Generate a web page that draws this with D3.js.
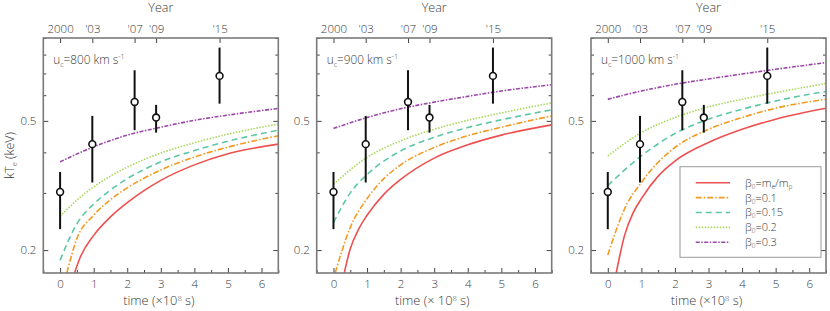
<!DOCTYPE html>
<html>
<head>
<meta charset="utf-8">
<script src="https://cdn.jsdelivr.net/npm/d3@7"></script>
<style>
  body { margin: 0; background: #fff; }
  svg text { font-family: "Open Sans", sans-serif; font-weight: 300; fill: #3a3a3a; }
</style>
</head>
<body>
<div id="chart"></div>
<script>
// observations (same in every panel)
const obsTime = [0, 0.96, 2.22, 2.86, 4.75];
const obsYear = ["2000", "'03", "'07", "'09", "'15"];
const obsKT = [0.302, 0.424, 0.572, 0.512, 0.688];
const obsLo = [0.232, 0.323, 0.468, 0.460, 0.565];
const obsHi = [0.348, 0.518, 0.716, 0.560, 0.841];

const velocities = ["800", "900", "1000"];
const betaNames = ["me", "0.1", "0.15", "0.2", "0.3"];
const colors = ["#ee5050", "#f39a22", "#5ec6a6", "#a8d85c", "#9c46aa"];
const dashes = [null, "6,2,1.5,2", "6,4", "1.5,1.5", "4,1.5,1.5,1.5"];

// model curves, [time, kTe], in beta order
const curves800 = [
    [[0.43,0.17],[0.6,0.19],[1,0.222],[1.5,0.253],[2,0.28],[2.5,0.305],[3,0.328],[4,0.366],[5,0.396],[6.5,0.424]],
    [[0.2,0.17],[0.5,0.217],[1,0.256],[1.5,0.286],[2,0.311],[2.5,0.333],[3,0.353],[4,0.387],[5,0.415],[6.5,0.45]],
    [[0,0.186],[0.5,0.241],[1,0.277],[1.5,0.306],[2,0.332],[2.5,0.354],[3,0.374],[4,0.405],[5,0.433],[6.5,0.468]],
    [[0,0.254],[0.5,0.285],[1,0.313],[1.5,0.338],[2,0.36],[2.5,0.38],[3,0.398],[4,0.428],[5,0.455],[6.5,0.489]],
    [[0,0.374],[1,0.416],[2,0.452],[3,0.478],[4,0.502],[5,0.521],[6.5,0.546]]
];
const curves900 = [
    [[0.32,0.17],[0.5,0.202],[0.75,0.232],[1,0.256],[1.5,0.297],[2,0.33],[3,0.384],[4,0.422],[5,0.452],[6.5,0.486]],
    [[0.05,0.17],[0.5,0.235],[1,0.288],[1.5,0.332],[2,0.366],[3,0.414],[4,0.45],[5,0.478],[6.5,0.518]],
    [[0,0.243],[0.5,0.3],[1,0.342],[1.5,0.376],[2,0.404],[3,0.445],[4,0.477],[5,0.504],[6.5,0.541]],
    [[0,0.319],[1,0.386],[2,0.434],[3,0.471],[4,0.502],[5,0.529],[6.5,0.568]],
    [[0,0.474],[1,0.512],[2,0.545],[3,0.571],[4,0.595],[5,0.618],[6.5,0.646]]
];
const curves1000 = [
    [[0.25,0.17],[0.5,0.222],[0.75,0.26],[1,0.288],[1.5,0.338],[2,0.376],[3,0.429],[4,0.471],[5,0.506],[6.5,0.547]],
    [[0,0.193],[0.5,0.268],[1,0.323],[1.5,0.373],[2,0.414],[3,0.471],[4,0.512],[5,0.547],[6.5,0.583]],
    [[0,0.316],[1,0.39],[2,0.457],[3,0.506],[4,0.543],[5,0.576],[6.5,0.616]],
    [[0,0.39],[1,0.46],[2,0.512],[3,0.552],[4,0.583],[5,0.611],[6.5,0.652]],
    [[0,0.583],[1,0.618],[2,0.648],[3,0.673],[4,0.697],[5,0.721],[6.5,0.756]]
];
const allCurves = [curves800, curves900, curves1000];

const panelLeft = [43.3, 316.7, 591];
const panelTop = 38, panelW = 235, panelH = 235;

const svg = d3.select("#chart").append("svg")
    .attr("width", 830).attr("height", 311);

const xScale = d3.scaleLinear().domain([-0.5, 6.5]).range([0, panelW]);
const yScale = d3.scaleLog().domain([0.17, 0.9]).range([panelH, 0]);

svg.append("defs").append("clipPath").attr("id", "plotClip")
    .append("rect").attr("width", panelW).attr("height", panelH);

const line = d3.line()
    .x(d => xScale(d[0]))
    .y(d => yScale(d[1]))
    .curve(d3.curveMonotoneX);

velocities.forEach(function(vel, p) {
    var g = svg.append("g")
        .attr("transform", "translate(" + panelLeft[p] + "," + panelTop + ")");

    // curves
    var cg = g.append("g").attr("clip-path", "url(#plotClip)");
    allCurves[p].forEach(function(c, i) {
        cg.append("path")
            .attr("d", line(c))
            .attr("fill", "none")
            .attr("stroke", colors[i])
            .attr("stroke-width", 1.6)
            .attr("stroke-dasharray", dashes[i]);
    });

    // axes, ticks drawn inward
    var yMajor = [0.2, 0.5];
    var yMinor = [0.3, 0.4, 0.6, 0.7, 0.8, 0.9];
    var axisStyle = sel => sel.select(".domain").remove();

    g.append("g")
        .call(d3.axisBottom(xScale).tickValues(d3.range(0, 7)).tickSize(-5).tickPadding(7).tickFormat(d3.format("d")))
        .attr("transform", "translate(0," + panelH + ")")
        .call(axisStyle);
    g.append("g")
        .call(d3.axisBottom(xScale).tickValues(d3.range(-0.5, 7, 1)).tickSize(-3).tickFormat(""))
        .attr("transform", "translate(0," + panelH + ")")
        .call(axisStyle);
    g.append("g")
        .call(d3.axisTop(xScale).tickValues(obsTime).tickSize(-5).tickPadding(5)
              .tickFormat((d, i) => obsYear[i]))
        .call(axisStyle);

    g.append("g")
        .call(d3.axisLeft(yScale).tickValues(yMajor).tickSize(-5).tickPadding(7).tickFormat(d3.format(".1f")))
        .call(axisStyle);
    g.append("g")
        .call(d3.axisLeft(yScale).tickValues(yMinor).tickSize(-3).tickFormat(""))
        .call(axisStyle);
    g.append("g")
        .attr("transform", "translate(" + panelW + ",0)")
        .call(d3.axisRight(yScale).tickValues(yMajor).tickSize(-5).tickFormat(""))
        .call(axisStyle);
    g.append("g")
        .attr("transform", "translate(" + panelW + ",0)")
        .call(d3.axisRight(yScale).tickValues(yMinor).tickSize(-3).tickFormat(""))
        .call(axisStyle);

    g.selectAll(".tick line").attr("stroke", "#444").attr("stroke-width", 1);
    g.selectAll(".tick text").attr("font-size", 11.5).attr("fill", "#3a3a3a")
        .style("font-family", "'Open Sans', sans-serif").style("font-weight", 300);

    // frame
    g.append("rect")
        .attr("width", panelW).attr("height", panelH)
        .attr("fill", "none").attr("stroke", "#7a7a7a").attr("stroke-width", 1.6);

    // error bars and points
    obsTime.forEach(function(t, i) {
        g.append("line")
            .attr("x1", xScale(t)).attr("x2", xScale(t))
            .attr("y1", yScale(obsLo[i])).attr("y2", yScale(obsHi[i]))
            .attr("stroke", "#111").attr("stroke-width", 2);
    });
    g.selectAll("circle.obs").data(obsTime).enter().append("circle")
        .attr("class", "obs")
        .attr("cx", d => xScale(d))
        .attr("cy", (d, i) => yScale(obsKT[i]))
        .attr("r", 3.4)
        .attr("fill", "#fff").attr("stroke", "#111").attr("stroke-width", 1.6);

    // velocity label
    var lab = g.append("text").attr("x", 10).attr("y", 26).attr("font-size", 11.8);
    lab.append("tspan").text("u");
    lab.append("tspan").attr("font-size", 7).attr("dy", 2.5).text("c");
    lab.append("tspan").attr("dy", -2.5).text("=" + vel + " km s");
    lab.append("tspan").attr("font-size", 7).attr("dy", -5).text("-1");

    // axis titles
    g.append("text")
        .attr("x", panelW / 2).attr("y", -26)
        .attr("text-anchor", "middle").attr("font-size", 12.5)
        .text("Year");
    var xt = g.append("text")
        .attr("x", panelW / 2 - 2).attr("y", panelH + 32)
        .attr("text-anchor", "middle").attr("font-size", 12.8);
    xt.append("tspan").text("time (" + (p == 1 ? "× " : "×") + "10");
    xt.append("tspan").attr("font-size", 7.5).attr("dy", -4).text("8");
    xt.append("tspan").attr("dy", 4).text(" s)");
});

// y axis title
var yt = svg.append("text")
    .attr("transform", "translate(14," + (panelTop + panelH / 2) + ") rotate(-90)")
    .attr("text-anchor", "middle").attr("font-size", 12.5);
yt.append("tspan").text("kT");
yt.append("tspan").attr("font-size", 7.5).attr("dy", 2.5).text("e");
yt.append("tspan").attr("dy", -2.5).text(" (keV)");

// legend in the last panel
var leg = svg.append("g").attr("transform", "translate(680,166.7)");
leg.append("rect")
    .attr("width", 141).attr("height", 90.6)
    .attr("fill", "#fff").attr("stroke", "#999").attr("stroke-width", 1);
betaNames.forEach(function(b, i) {
    var yy = 16 + i * 14.9;
    leg.append("line")
        .attr("x1", 15.7).attr("x2", 50).attr("y1", yy).attr("y2", yy)
        .attr("stroke", colors[i]).attr("stroke-width", 1.6)
        .attr("stroke-dasharray", dashes[i]);
    var t = leg.append("text").attr("x", 65).attr("y", yy + 4).attr("font-size", 11);
    t.append("tspan").text("β");
    t.append("tspan").attr("font-size", 6.5).attr("dy", 2).text("0");
    if (b == "me") {
        t.append("tspan").attr("dy", -2).text("=m");
        t.append("tspan").attr("font-size", 6.5).attr("dy", 2).text("e");
        t.append("tspan").attr("dy", -2).text("/m");
        t.append("tspan").attr("font-size", 6.5).attr("dy", 2).text("p");
    } else {
        t.append("tspan").attr("dy", -2).text("=" + b);
    }
});
</script>
</body>
</html>
